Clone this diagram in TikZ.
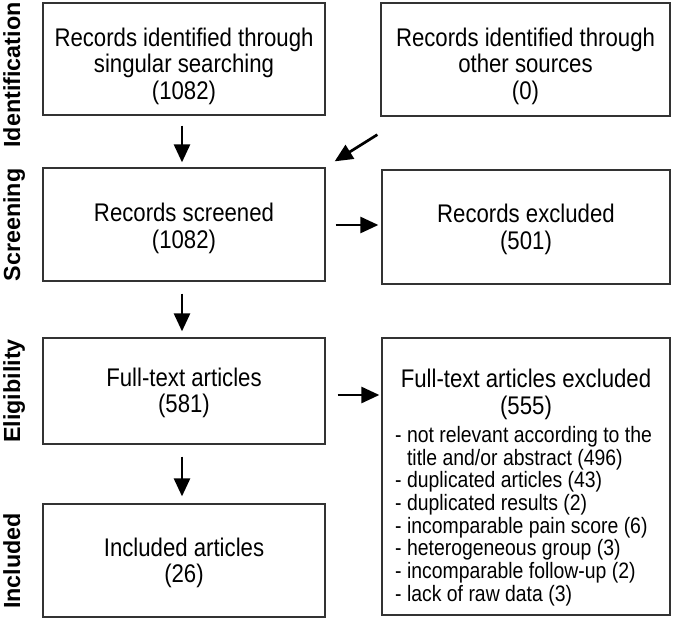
\documentclass[tikz,border=0pt]{standalone}
\usepackage{fontspec}
\setmainfont{Liberation Sans}[FakeStretch=0.87]
\newfontfamily\labfont{Liberation Sans}
\usetikzlibrary{arrows.meta}
\begin{document}
\begin{tikzpicture}[x=1pt,y=-1pt,
  box/.style={draw=black!80, line width=1.3pt, rectangle, inner sep=0pt},
  txt/.style={inner sep=0pt, align=center, font=\fontsize{25.5}{26.5}\selectfont},
  arr/.style={line width=2.7pt, -{Triangle[length=18pt,width=16pt]}},
  phase/.style={rotate=90, anchor=base, inner sep=0pt, font=\labfont\fontsize{23.3}{26}\bfseries\selectfont},
  listtxt/.style={inner sep=0pt, align=left, anchor=north west, font=\fontsize{22.3}{22.7}\selectfont}]
\useasboundingbox (0,0) rectangle (674,621);

% boxes
\node[box, minimum width=282pt, minimum height=112pt] (A) at (184,59) {};
\node[box, minimum width=289pt, minimum height=113pt] (B) at (525.5,59.5) {};
\node[box, minimum width=282pt, minimum height=113pt] (C) at (184,224.5) {};
\node[box, minimum width=288pt, minimum height=114pt] (D) at (526,227) {};
\node[box, minimum width=282pt, minimum height=106pt] (E) at (184,391) {};
\node[box, minimum width=288pt, minimum height=277pt] (F) at (526,476.5) {};
\node[box, minimum width=282pt, minimum height=113pt] (G) at (184,560.5) {};

% box texts
\node[txt] (At) at (184,66) {Records identified through\\singular searching\\(1082)};
\node[txt] (Bt) at (525.5,66) {Records identified through\\other sources\\(0)};
\node[txt] (Ct) at (184,228.5) {Records screened\\(1082)};
\node[txt] (Dt) at (526,229.5) {Records excluded\\(501)};
\node[txt] (Et) at (184,393) {Full-text articles\\(581)};
\node[txt] (Gt) at (184,563) {Included articles\\(26)};

% contents of F
\node[txt, anchor=north] (Fh) at (526,369) {Full-text articles excluded\\(555)};
\node[listtxt] (Fl) at (395,426)
  {- not relevant according to the\\
   \hphantom{- }title and/or abstract (496)\\
   - duplicated articles (43)\\
   - duplicated results (2)\\
   - incomparable pain score (6)\\
   - heterogeneous group (3)\\
   - incomparable follow-up (2)\\
   - lack of raw data (3)};

% phase labels
\node[phase] (p1) at (20,75) {Identification};
\node[phase] (p2) at (20,225) {Screening};
\node[phase] (p3) at (20,391) {Eligibility};
\node[phase] (p4) at (20,561) {Included};

% arrows
\draw[arr] ([shift={(-2,10)}]A.south) -- ([shift={(-2,-5)}]C.north);
\draw[arr] ([shift={(-3,18)}]B.south west) -- ([shift={(9,-6)}]C.north east);
\draw[arr] ([shift={(-2,12)}]C.south) -- ([shift={(-2,-6)}]E.north);
\draw[arr] ([shift={(-2,12)}]E.south) -- ([shift={(-2,-7)}]G.north);
\draw[arr] ([shift={(10,0.5)}]C.east) -- ([shift={(-3,-2)}]D.west);
\coordinate (ef) at (E.east -| F.west);
\draw[arr] ([shift={(12,4)}]E.east) -- ([shift={(-2,4)}]ef);
\end{tikzpicture}
\end{document}
